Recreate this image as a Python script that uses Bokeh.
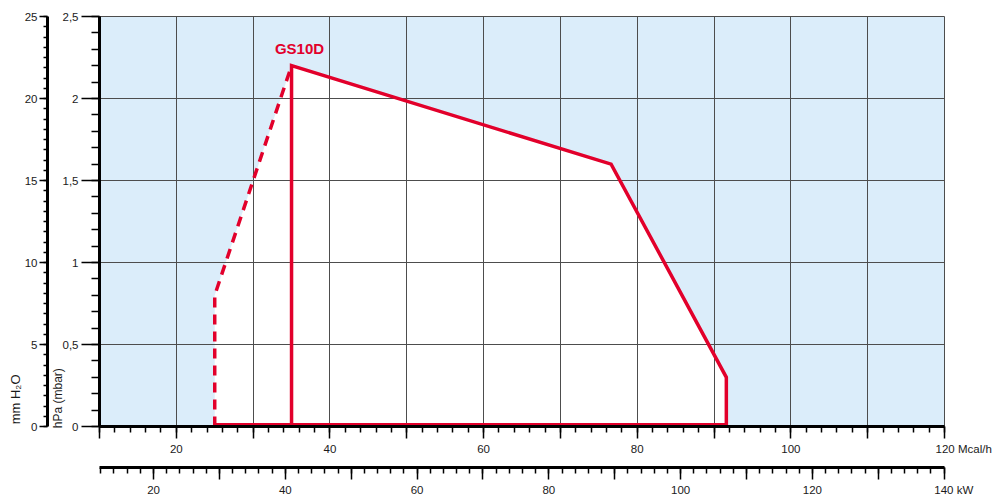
from bokeh.plotting import figure
from bokeh.models import Range1d, LinearAxis, FixedTicker, Grid, Label
from bokeh.embed import file_html
from bokeh.resources import INLINE

# ---------------- data ----------------
# working field of the burner (Mcal/h vs hPa)
field_mcal = [25.0, 25.0, 35.0, 76.6, 91.6, 91.6]
field_hpa = [0.0, 0.8, 2.2, 1.6, 0.3, 0.0]
burner_name = "GS10D"

# Mcal/h axis
mcal_ticks = [10, 20, 30, 40, 50, 60, 70, 80, 90, 100, 110, 120]
mcal_labels = ["", "20", "", "40", "", "60", "", "80", "", "100", "", "120"]
mcal_minor = list(range(10, 121, 2))
mcal_unit = "Mcal/h"

# kW axis
kw_ticks = [20, 30, 40, 50, 60, 70, 80, 90, 100, 110, 120, 130, 140]
kw_labels = ["20", "", "40", "", "60", "", "80", "", "100", "", "120", "", "140"]
kw_minor = list(range(12, 141, 2))
kw_unit = "kW"

# hPa axis
hpa_ticks = [0, 0.5, 1, 1.5, 2, 2.5]
hpa_labels = ["0", "0,5", "1", "1,5", "2", "2,5"]
hpa_minor = [round(0.1 * k, 1) for k in range(26)]
hpa_title = "hPa (mbar)"

# mm H2O axis
mm_ticks = [0, 5, 10, 15, 20, 25]
mm_labels = ["0", "5", "10", "15", "20", "25"]
mm_minor = [0.625 * k for k in range(41)]
mm_title = "mm H\u2082O"

# ---------------- style ----------------
RED = "#e2002b"
BLUE_BG = "#dbedfa"
GRID = "#4d4d4d"
FONT = "Liberation Sans"
TXT = "#1a1a1a"
NBSP = "\u00a0"

p = figure(width=994, height=498,
           x_range=Range1d(mcal_ticks[0], mcal_ticks[-1]),
           y_range=Range1d(hpa_ticks[0], hpa_ticks[-1]),
           x_axis_type=None, y_axis_type=None,
           toolbar_location=None, output_backend="svg",
           min_border_left=99, min_border_right=50,
           min_border_top=16, min_border_bottom=70,
           background_fill_color=BLUE_BG, border_fill_color="white",
           outline_line_color=GRID, outline_line_width=1)
p.extra_x_ranges = {"kw": Range1d(11.8, 140.05)}
p.extra_y_ranges = {"mm": Range1d(mm_ticks[0], mm_ticks[-1])}

HAS_ALIGN = "axis_label_align" in LinearAxis.properties()


def style_axis(ax, tick_out, minor_out, standoff):
    ax.axis_line_color = "black"
    ax.axis_line_width = 3
    ax.major_tick_line_color = "black"
    ax.major_tick_line_width = 1.5
    ax.minor_tick_line_color = "black"
    ax.minor_tick_line_width = 1.5
    ax.major_tick_in = 0
    ax.major_tick_out = tick_out
    ax.minor_tick_in = 0
    ax.minor_tick_out = minor_out
    ax.major_label_standoff = standoff
    ax.major_label_text_font = FONT
    ax.major_label_text_font_size = "11.5px"
    ax.major_label_text_color = TXT


def title_axis(ax, text, standoff, pad_n, size):
    # the label is centred on the start of the axis: pad its start so that
    # the visible text begins at the bottom of the axis
    ax.axis_label = NBSP * pad_n + text
    ax.axis_label_standoff = standoff
    ax.axis_label_text_font = FONT
    ax.axis_label_text_font_size = size
    ax.axis_label_text_font_style = "normal"
    ax.axis_label_text_color = TXT
    if HAS_ALIGN:
        ax.axis_label_align = "start"


def spacer(ax, gap):
    ax.axis_label = NBSP
    ax.axis_label_text_font_size = "1px"
    ax.axis_label_standoff = gap


def unit_label(labels, unit):
    # keep the last number centred on its tick, with the unit beside it
    pad_n = {"Mcal/h": 12, "kW": 6}[unit]
    out = list(labels)
    out[-1] = NBSP * pad_n + labels[-1] + NBSP + unit
    return out


mcal_ticker = FixedTicker(ticks=mcal_ticks, minor_ticks=mcal_minor)
hpa_ticker = FixedTicker(ticks=hpa_ticks, minor_ticks=hpa_minor)

# left axes
hpa_axis = LinearAxis(ticker=hpa_ticker,
                      major_label_overrides=dict(zip(hpa_ticks, hpa_labels)))
style_axis(hpa_axis, 18, 8, 3)
title_axis(hpa_axis, hpa_title, -5, 17, "12px")
p.add_layout(hpa_axis, "left")

mm_axis = LinearAxis(y_range_name="mm",
                     ticker=FixedTicker(ticks=mm_ticks, minor_ticks=mm_minor),
                     major_label_overrides=dict(zip(mm_ticks, mm_labels)))
style_axis(mm_axis, 8, 4, 2)
title_axis(mm_axis, mm_title, -1, 15, "13px")
p.add_layout(mm_axis, "left")

# bottom axes
mcal_axis = LinearAxis(ticker=mcal_ticker,
                       major_label_overrides=dict(zip(mcal_ticks,
                                                      unit_label(mcal_labels, mcal_unit))))
style_axis(mcal_axis, 12, 6, 4)
spacer(mcal_axis, 6)
p.add_layout(mcal_axis, "below")

kw_axis = LinearAxis(x_range_name="kw",
                     ticker=FixedTicker(ticks=kw_ticks, minor_ticks=kw_minor),
                     major_label_overrides=dict(zip(kw_ticks,
                                                    unit_label(kw_labels, kw_unit))))
style_axis(kw_axis, 12, 6, 4)
p.add_layout(kw_axis, "below")

# grids
p.add_layout(Grid(dimension=0, ticker=mcal_ticker,
                  grid_line_color=GRID, grid_line_width=1))
p.add_layout(Grid(dimension=1, ticker=hpa_ticker,
                  grid_line_color=GRID, grid_line_width=1))

# working field
patch = p.patch(field_mcal, field_hpa, fill_color="white", line_color=None)
patch.level = "image"

p.line(field_mcal[:3], field_hpa[:3], line_color=RED, line_width=3.5,
       line_dash="10 7", line_join="round")
p.line([field_mcal[2]] + field_mcal[2:], [field_hpa[0]] + field_hpa[2:],
       line_color=RED, line_width=3.5, line_join="miter")
p.line([field_mcal[0], field_mcal[-1]], [field_hpa[0], field_hpa[-1]],
       line_color=RED, line_width=7)

# burner name
p.add_layout(Label(x=field_mcal[2], y=field_hpa[2], x_offset=8, y_offset=17,
                   text=burner_name, text_align="center", text_baseline="middle",
                   text_font=FONT, text_font_style="bold", text_font_size="15px",
                   text_color=RED))

open("out.html", "w").write(file_html(p, INLINE))
